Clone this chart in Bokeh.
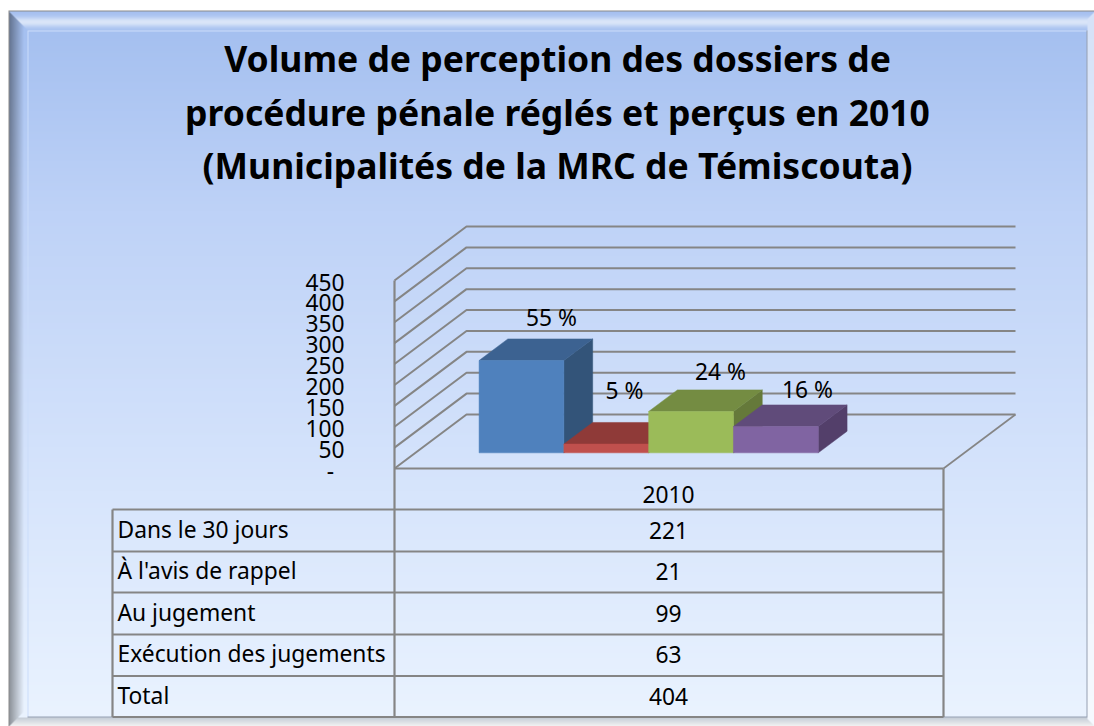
import numpy as np
from bokeh.plotting import figure
from bokeh.models import Range1d
from bokeh.core.properties import value
from bokeh.embed import file_html
from bokeh.resources import INLINE

title_lines = ["Volume de perception des dossiers de",
               "procédure pénale réglés et perçus en 2010",
               "(Municipalités de la MRC de Témiscouta)"]
categories = ["Dans le 30 jours", "À l'avis de rappel", "Au jugement", "Exécution des jugements"]
series_values = [221, 21, 99, 63]
percent_labels = ["55 %", "5 %", "24 %", "16 %"]
total_value = 404
year_label = "2010"
ticks = [0, 50, 100, 150, 200, 250, 300, 350, 400, 450]
tick_labels = ["-", "50", "100", "150", "200", "250", "300", "350", "400", "450"]
bar_colors = [("#4f81bd", "#3c6291", "#335479"),
              ("#c0504d", "#8f3a38", "#7d3331"),
              ("#9bbb59", "#748c42", "#65793a"),
              ("#8064a2", "#604b7a", "#533f6a")]

W, H = 1094, 726
X0, Y0 = 0, 0
BASE_Y = 468.0
PX_PER_UNIT = 188.0 / 450
def val(py):
    return (BASE_Y - py) / PX_PER_UNIT

p = figure(width=W, height=H, output_backend="svg", toolbar_location=None,
           x_range=Range1d(X0, X0 + W), y_range=Range1d(val(Y0 + H), val(Y0)),
           min_border=0, outline_line_color=None, background_fill_color="white", border_fill_color="white")
p.xaxis.visible = False
p.yaxis.visible = False
p.grid.visible = False

# background with bevel
yy, xx = np.mgrid[Y0:Y0 + H, X0:X0 + W]
stops_y = [30, 210, 490, 716]
stops_c = [(165, 192, 240), (190, 210, 247), (215, 229, 252), (234, 243, 255)]
rgb = np.stack([np.interp(yy, stops_y, [c[k] for c in stops_c]) for k in range(3)], axis=-1)
L, T, R, B = 27, 30, 1086, 716
d_top = yy - 10
d_left = xx - 8
d_right = 1094 - xx
d_bot = 726 - yy
in_band = (xx < L) | (yy < T) | (xx > R) | (yy > B)
band = rgb.copy()
is_left = (xx < L) & (d_left < d_top) & (d_left < d_bot)
is_right = (xx > R) & (d_right < d_top) & (d_right < d_bot)
is_top = (yy < T) & ~is_left & ~is_right
is_bot = (yy > B) & ~is_left & ~is_right
white = np.array([255, 255, 255.])
s = np.exp(-((yy - 21.0) / 5.0) ** 2)[..., None]
band[is_top] = (rgb * (1 - 0.6 * s) + white * 0.6 * s)[is_top]
f = np.clip((xx - 9) / 14.0, 0, 1)[..., None]
band[is_left] = (rgb * (0.62 + 0.38 * f))[is_left]
band[is_right] = (rgb * 0.45 + white * 0.55)[is_right]
g = np.clip((yy - 717) / 8.0, 0, 1)[..., None]
band[is_bot] = ((rgb * 0.85) * (1 - g) + white * 0.95 * g)[is_bot]
rgb = np.where(in_band[..., None], band, rgb)
light = np.array([203, 221, 250.])
dark = np.array([150, 160, 178.])
rgb[(yy == T) & (xx >= L) & (xx <= R)] = light
rgb[(xx == L) & (yy >= T) & (yy <= B)] = light
rgb[(xx == R) & (yy >= T) & (yy <= B)] = dark
rgb[(yy == B) & (xx >= L) & (xx <= R)] = dark
rgb[(yy == 10) & (xx >= 8)] = [138, 138, 138]
rgb[(xx == 8) & (yy >= 10)] = [138, 138, 138]
rgb[yy < 10] = 255
rgb[xx < 8] = 255
img = np.empty((H, W), dtype=np.uint32)
view = img.view(np.uint8).reshape((H, W, 4))
view[..., :3] = np.clip(rgb, 0, 255).astype(np.uint8)
view[..., 3] = 255
p.image_rgba(image=[img[::-1]], x=X0, y=val(Y0 + H), dw=W, dh=(H) / PX_PER_UNIT)

# 3D geometry
FX0, FX1 = 394.0, 943.0
DEPTH_X, DEPTH_Y = 72.0, 54.0
def pt(x, v, d):
    """x at front plane, value, depth fraction 0..1"""
    return x + d * DEPTH_X, v + d * DEPTH_Y / PX_PER_UNIT

GRID = "#858585"
for tick in ticks:
    a, b, c = pt(FX0, tick, 0), pt(FX0, tick, 1), pt(FX1, tick, 1)
    p.line([a[0], b[0], c[0]], [a[1], b[1], c[1]], line_color=GRID, line_width=2)
a, b = pt(FX1, 0, 0), pt(FX1, 0, 1)
p.line([a[0], b[0]], [a[1], b[1]], line_color=GRID, line_width=1.6)
p.line([FX0, FX1], [0, 0], line_color=GRID, line_width=2.2)
p.line([FX0, FX0], [val(716.5), ticks[-1]], line_color=GRID, line_width=2.2)
p.line([FX1, FX1], [val(716.5), 0], line_color=GRID, line_width=2.2)

# bars
BAR_X0, BAR_W = 457.7, 84.8
D0, D1 = 0.29, 0.69
for i, v in enumerate(series_values):
    x0 = BAR_X0 + i * BAR_W
    x1 = x0 + BAR_W
    front, top, side = bar_colors[i]
    q = [pt(x0, 0, D0), pt(x1, 0, D0), pt(x1, v, D0), pt(x0, v, D0)]
    tp = [pt(x0, v, D0), pt(x1, v, D0), pt(x1, v, D1), pt(x0, v, D1)]
    sd = [pt(x1, 0, D0), pt(x1, 0, D1), pt(x1, v, D1), pt(x1, v, D0)]
    for poly, col in ((sd, side), (tp, top), (q, front)):
        p.patch([c[0] for c in poly], [c[1] for c in poly], fill_color=col, line_color=col, line_width=0.5)

FONT = value("Noto Sans")
BODY = 22.8
def txt(x, py, s, size, align="center", weight="normal"):
    p.text([x], [val(py)], text=[s], text_font=FONT, text_font_size=f"{size}px",
           text_align=align, text_baseline="middle", text_color="#000000", text_font_style=weight)

# data labels
label_px = [(551, 317), (624, 390), (720, 371), (807, 389)]
for s, (lx, ly) in zip(percent_labels, label_px):
    txt(lx, ly, s, BODY)

# y tick labels
for tick, lab in zip(ticks, tick_labels):
    py = BASE_Y - tick * PX_PER_UNIT + 1.5
    if tick == 0:
        txt(330, py, lab, BODY)
    else:
        txt(344, py, lab, BODY, align="right")

# table
TL = 112.0
rows_px = [509, 551, 592, 634, 675.5, 716.5]
for r in rows_px:
    p.line([TL, FX1], [val(r), val(r)], line_color=GRID, line_width=2.2)
p.line([TL, TL], [val(rows_px[0]), val(rows_px[-1])], line_color=GRID, line_width=2.2)
txt(668, 494, year_label, BODY)
names = categories + ["Total"]
vals = series_values + [total_value]
for i, (n, v) in enumerate(zip(names, vals)):
    cy = (rows_px[i] + rows_px[i + 1]) / 2 - 1.5
    txt(117, cy, n, BODY, align="left")
    txt(668, cy + 1, str(v), BODY)

for s, py in zip(title_lines, [57, 111, 164]):
    txt(557, py, s, 35.5, weight="bold")

open("out.html", "w").write(file_html(p, INLINE))
